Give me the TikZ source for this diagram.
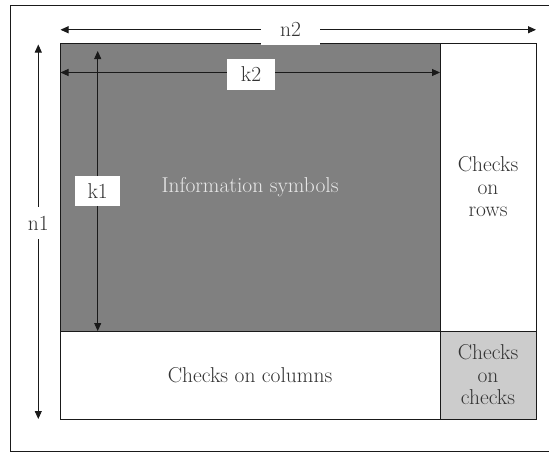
\documentclass[tikz,border=0pt]{standalone}
\usetikzlibrary{arrows.meta}
\definecolor{infofill}{HTML}{808080}
\definecolor{ccfill}{HTML}{CCCCCC}
\definecolor{infotext}{HTML}{E8E8E8}
\definecolor{txt}{HTML}{333333}
\definecolor{ln}{HTML}{1A1A1A}
\tikzset{
  blk/.style={draw=ln, line width=0.9pt, inner sep=0pt, outer sep=0pt, anchor=north west,
    text=txt, align=center, font=\fontsize{21.5}{22.5}\selectfont},
  lbl/.style={fill=white, inner sep=0pt, text=txt, font=\fontsize{21.5}{22.5}\selectfont},
  dim/.style={draw=ln, line width=0.9pt, {Triangle[length=8pt,width=7pt]}-{Triangle[length=8pt,width=7pt]}}
}
\begin{document}
\begin{tikzpicture}[x=1pt,y=-1pt]
\useasboundingbox (0,0) rectangle (549,453);
% outer frame (open to the right, extends beyond picture)
\draw[ln, line width=0.9pt] (552,5.3) -- (10.5,5.3) -- (10.5,451.5) -- (552,451.5);
% blocks
\node[blk, fill=infofill, text=infotext, minimum width=380pt, minimum height=288pt] (info) at (60,43) {Information symbols};
\node[blk, fill=white, minimum width=96pt, minimum height=288pt] (rows) at (440,43) {Checks\\on\\rows};
\node[blk, fill=white, minimum width=380pt, minimum height=88pt] (cols) at (60,331) {Checks on columns};
\node[blk, fill=ccfill, minimum width=96pt, minimum height=88pt] (cc) at (440,331) {Checks\\on\\checks};
% dimension end points
\coordinate (n2a) at (60.5,29.75);
\coordinate (n2b) at (536,29.75);
\coordinate (k2a) at (60.5,72.5);
\coordinate (k2b) at (440,72.5);
\coordinate (k1a) at (97.7,51);
\coordinate (k1b) at (97.7,331);
\coordinate (n1a) at (38.3,44.5);
\coordinate (n1b) at (38.3,419);
% dimension arrows
\draw[dim] (n2a) -- (n2b);
\draw[dim] (k2a) -- (k2b);
\draw[dim] (k1a) -- (k1b);
\draw[dim] (n1a) -- (n1b);
% labels
\node[lbl, minimum width=59pt, minimum height=30pt] (n2) at (290.5,29.75) {n2};
\node[lbl, minimum width=48pt, minimum height=31pt] (k2) at (251,74) {k2};
\node[lbl, minimum width=45pt, minimum height=30pt] (k1) at (97.7,191) {k1};
\node[lbl, minimum width=22pt, minimum height=32pt] (n1) at (38.3,223) {n1};
\end{tikzpicture}
\end{document}
